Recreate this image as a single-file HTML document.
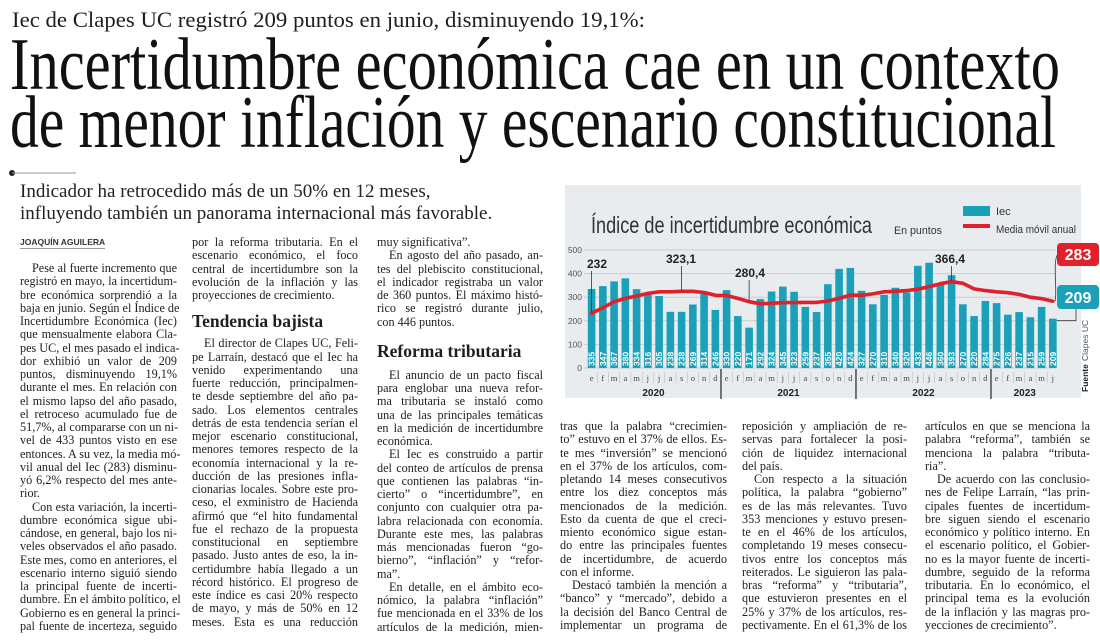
<!DOCTYPE html>
<html lang="es">
<head>
<meta charset="utf-8">
<style>
  html,body{margin:0;padding:0;background:#fff;}
  body{width:1100px;height:640px;position:relative;overflow:hidden;font-family:"Liberation Serif",serif;color:#1e1e1e;}
  .col{position:absolute;font-size:12.2px;line-height:13.25px;}
  .col div{white-space:nowrap;}
  .l{text-align:justify;text-align-last:justify;}
  .e{text-align:left;}
  .i{text-indent:12px;}
  .h{font-weight:bold;font-size:17.5px;line-height:20px;font-family:"Liberation Serif",serif;}
  .abs{position:absolute;}
</style>
</head>
<body>

<svg class="abs" style="left:0;top:0" width="1100" height="240">
  <text x="12" y="27" font-family="Liberation Serif, serif" font-size="22.5" fill="#1e1e1e" textLength="633" lengthAdjust="spacingAndGlyphs">Iec de Clapes UC registró 209 puntos en junio, disminuyendo 19,1%:</text>
  <text x="10" y="89" font-family="Liberation Serif, serif" font-size="74" fill="#111" textLength="1050" lengthAdjust="spacingAndGlyphs">Incertidumbre económica cae en un contexto</text>
  <text x="10" y="147" font-family="Liberation Serif, serif" font-size="74" fill="#111" textLength="1046" lengthAdjust="spacingAndGlyphs">de menor inflación y escenario constitucional</text>
  <circle cx="12" cy="173" r="3" fill="#222"/>
  <line x1="12" y1="173" x2="76" y2="173" stroke="#999" stroke-width="1"/>
  <text x="20" y="197" font-family="Liberation Serif, serif" font-size="19" fill="#222">Indicador ha retrocedido más de un 50% en 12 meses,</text>
  <text x="20" y="219" font-family="Liberation Serif, serif" font-size="19" fill="#222">influyendo también un panorama internacional más favorable.</text>
</svg>

<div class="abs" style="left:20px;top:237px;font-family:'Liberation Sans',sans-serif;font-size:8.5px;font-weight:bold;color:#333;border-bottom:1px solid #999;padding-bottom:1px;">JOAQUÍN AGUILERA</div>

<div class="col" style="left:20px;top:262px;width:157px;">
<div class="l i">Pese al fuerte incremento que</div>
<div class="l">registró en mayo, la incertidum-</div>
<div class="l">bre económica sorprendió a la</div>
<div class="l">baja en junio. Según el Índice de</div>
<div class="l">Incertidumbre Económica (Iec)</div>
<div class="l">que mensualmente elabora Cla-</div>
<div class="l">pes UC, el mes pasado el indica-</div>
<div class="l">dor exhibió un valor de 209</div>
<div class="l">puntos, disminuyendo 19,1%</div>
<div class="l">durante el mes. En relación con</div>
<div class="l">el mismo lapso del año pasado,</div>
<div class="l">el retroceso acumulado fue de</div>
<div class="l">51,7%, al compararse con un ni-</div>
<div class="l">vel de 433 puntos visto en ese</div>
<div class="l">entonces. A su vez, la media mó-</div>
<div class="l">vil anual del Iec (283) disminu-</div>
<div class="l">yó 6,2% respecto del mes ante-</div>
<div class="e">rior.</div>
<div class="l i">Con esta variación, la incerti-</div>
<div class="l">dumbre económica sigue ubi-</div>
<div class="l">cándose, en general, bajo los ni-</div>
<div class="l">veles observados el año pasado.</div>
<div class="l">Este mes, como en anteriores, el</div>
<div class="l">escenario interno siguió siendo</div>
<div class="l">la principal fuente de incerti-</div>
<div class="l">dumbre. En el ámbito político, el</div>
<div class="l">Gobierno es en general la princi-</div>
<div class="l">pal fuente de incerteza, seguido</div>
</div>

<div class="col" style="left:192px;top:236px;width:166px;">
<div class="l">por la reforma tributaria. En el</div>
<div class="l">escenario económico, el foco</div>
<div class="l">central de incertidumbre son la</div>
<div class="l">evolución de la inflación y las</div>
<div class="e">proyecciones de crecimiento.</div>
<div class="h" style="margin-top:9px;margin-bottom:6px;">Tendencia bajista</div>
<div class="l i">El director de Clapes UC, Feli-</div>
<div class="l">pe Larraín, destacó que el Iec ha</div>
<div class="l">venido experimentando una</div>
<div class="l">fuerte reducción, principalmen-</div>
<div class="l">te desde septiembre del año pa-</div>
<div class="l">sado. Los elementos centrales</div>
<div class="l">detrás de esta tendencia serían el</div>
<div class="l">mejor escenario constitucional,</div>
<div class="l">menores temores respecto de la</div>
<div class="l">economía internacional y la re-</div>
<div class="l">ducción de las presiones infla-</div>
<div class="l">cionarias locales. Sobre este pro-</div>
<div class="l">ceso, el exministro de Hacienda</div>
<div class="l">afirmó que “el hito fundamental</div>
<div class="l">fue el rechazo de la propuesta</div>
<div class="l">constitucional en septiembre</div>
<div class="l">pasado. Justo antes de eso, la in-</div>
<div class="l">certidumbre había llegado a un</div>
<div class="l">récord histórico. El progreso de</div>
<div class="l">este índice es casi 20% respecto</div>
<div class="l">de mayo, y más de 50% en 12</div>
<div class="l">meses. Esta es una reducción</div>
</div>

<div class="col" style="left:377px;top:236px;width:166px;">
<div class="e">muy significativa”.</div>
<div class="l i">En agosto del año pasado, an-</div>
<div class="l">tes del plebiscito constitucional,</div>
<div class="l">el indicador registraba un valor</div>
<div class="l">de 360 puntos. El máximo histó-</div>
<div class="l">rico se registró durante julio,</div>
<div class="e">con 446 puntos.</div>
<div class="h" style="margin-top:12px;margin-bottom:8px;">Reforma tributaria</div>
<div class="l i">El anuncio de un pacto fiscal</div>
<div class="l">para englobar una nueva refor-</div>
<div class="l">ma tributaria se instaló como</div>
<div class="l">una de las principales temáticas</div>
<div class="l">en la medición de incertidumbre</div>
<div class="e">económica.</div>
<div class="l i">El Iec es construido a partir</div>
<div class="l">del conteo de artículos de prensa</div>
<div class="l">que contienen las palabras “in-</div>
<div class="l">cierto” o “incertidumbre”, en</div>
<div class="l">conjunto con cualquier otra pa-</div>
<div class="l">labra relacionada con economía.</div>
<div class="l">Durante este mes, las palabras</div>
<div class="l">más mencionadas fueron “go-</div>
<div class="l">bierno”, “inflación” y “refor-</div>
<div class="e">ma”.</div>
<div class="l i">En detalle, en el ámbito eco-</div>
<div class="l">nómico, la palabra “inflación”</div>
<div class="l">fue mencionada en el 33% de los</div>
<div class="l">artículos de la medición, mien-</div>
</div>

<div class="col" style="left:560px;top:420px;width:167px;">
<div class="l">tras que la palabra “crecimien-</div>
<div class="l">to” estuvo en el 37% de ellos. Es-</div>
<div class="l">te mes “inversión” se mencionó</div>
<div class="l">en el 37% de los artículos, com-</div>
<div class="l">pletando 14 meses consecutivos</div>
<div class="l">entre los diez conceptos más</div>
<div class="l">mencionados de la medición.</div>
<div class="l">Esto da cuenta de que el creci-</div>
<div class="l">miento económico sigue estan-</div>
<div class="l">do entre las principales fuentes</div>
<div class="l">de incertidumbre, de acuerdo</div>
<div class="e">con el informe.</div>
<div class="l i">Destacó también la mención a</div>
<div class="l">“banco” y “mercado”, debido a</div>
<div class="l">la decisión del Banco Central de</div>
<div class="l">implementar un programa de</div>
</div>

<div class="col" style="left:742px;top:420px;width:165px;">
<div class="l">reposición y ampliación de re-</div>
<div class="l">servas para fortalecer la posi-</div>
<div class="l">ción de liquidez internacional</div>
<div class="e">del país.</div>
<div class="l i">Con respecto a la situación</div>
<div class="l">política, la palabra “gobierno”</div>
<div class="l">es de las más relevantes. Tuvo</div>
<div class="l">353 menciones y estuvo presen-</div>
<div class="l">te en el 46% de los artículos,</div>
<div class="l">completando 19 meses consecu-</div>
<div class="l">tivos entre los conceptos más</div>
<div class="l">reiterados. Le siguieron las pala-</div>
<div class="l">bras “reforma” y “tributaria”,</div>
<div class="l">que estuvieron presentes en el</div>
<div class="l">25% y 37% de los artículos, res-</div>
<div class="l">pectivamente. En el 61,3% de los</div>
</div>

<div class="col" style="left:925px;top:420px;width:165px;">
<div class="l">artículos en que se menciona la</div>
<div class="l">palabra “reforma”, también se</div>
<div class="l">menciona la palabra “tributa-</div>
<div class="e">ria”.</div>
<div class="l i">De acuerdo con las conclusio-</div>
<div class="l">nes de Felipe Larraín, “las prin-</div>
<div class="l">cipales fuentes de incertidum-</div>
<div class="l">bre siguen siendo el escenario</div>
<div class="l">económico y político interno. En</div>
<div class="l">el escenario político, el Gobier-</div>
<div class="l">no es la mayor fuente de incerti-</div>
<div class="l">dumbre, seguido de la reforma</div>
<div class="l">tributaria. En lo económico, el</div>
<div class="l">principal tema es la evolución</div>
<div class="l">de la inflación y las magras pro-</div>
<div class="e">yecciones de crecimiento”.</div>
</div>

<svg id="chart" class="abs" style="left:560px;top:180px" width="540" height="222" viewBox="560 180 540 222"></svg>

<script>
const months = ["e","f","m","a","m","j","j","a","s","o","n","d","e","f","m","a","m","j","j","a","s","o","n","d","e","f","m","a","m","j","j","a","s","o","n","d","e","f","m","a","m","j"];
const years = ["2020","2021","2022","2023"];
const yearStarts = [0,12,24,36];
const iecValues = [335,347,367,380,334,316,305,238,238,269,314,246,330,220,171,292,324,345,323,259,237,355,420,424,327,270,310,340,320,433,446,360,393,270,220,284,275,226,237,215,259,209];
const movingAvg = [232,255,281,295,305,316,323,323,325,325,320,308,307,295,281,272,274,277,277,278,278,284,295,309,308,314,323,325,328,334,345,357,366,359,335,328,323,319,312,300,294,283];
const yTicks = [0,100,200,300,400,500];
const callouts = [{i:0,label:"232",tx:597,ty:268},{i:8,label:"323,1",tx:681,ty:263},{i:14,label:"280,4",tx:750,ty:277},{i:32,label:"366,4",tx:950,ty:263}];

const NS = "http://www.w3.org/2000/svg";
const svg = document.getElementById("chart");
const X0 = 591.6, STEP = 11.25, Y0 = 368, PX = 0.236;
function x(i){ return X0 + i*STEP; }
function y(v){ return Y0 - v*PX; }
function mk(tag, attrs, parent){
  const el = document.createElementNS(NS, tag);
  for (const k in attrs) el.setAttribute(k, attrs[k]);
  (parent||svg).appendChild(el);
  return el;
}
function txt(s, attrs, parent){ const t = mk("text", attrs, parent); t.textContent = s; return t; }

let el = mk("rect",{x:565,y:185,width:516,height:213,fill:"#e9ecef"});



el = txt("Índice de incertidumbre económica",{x:591,y:233,"font-family":"Liberation Sans, sans-serif","font-size":23,fill:"#333",textLength:281,lengthAdjust:"spacingAndGlyphs"});


el = txt("En puntos",{x:894,y:234,"font-family":"Liberation Sans, sans-serif","font-size":11,fill:"#333",textLength:48,lengthAdjust:"spacingAndGlyphs"});



el = mk("rect",{x:963,y:206,width:27,height:10,fill:"#1aa0b8"});


el = txt("Iec",{x:996,y:215,"font-family":"Liberation Sans, sans-serif","font-size":11,fill:"#333"});


el = mk("rect",{x:963,y:224,width:27,height:4,fill:"#e0202a"});


el = txt("Media móvil anual",{x:996,y:233,"font-family":"Liberation Sans, sans-serif","font-size":11,fill:"#333",textLength:80,lengthAdjust:"spacingAndGlyphs"});



yTicks.forEach(v=>{
  const g = mk("line",{x1:584,x2:1056,y1:y(v),y2:y(v),stroke:"#c9cdd1","stroke-width":1});
  
  
  const t = txt(String(v),{x:582,y:y(v)+3,"text-anchor":"end","font-family":"Liberation Sans, sans-serif","font-size":8.5,fill:"#555"});
  
  
});

iecValues.forEach((v,i)=>{
  const b = mk("rect",{x:x(i)-3.8,y:y(v),width:7.6,height:Y0-y(v),fill:"#1aa0b8"});
  
  
  const cx = x(i)+3, cy = Y0-2;
  const t = txt(String(v),{x:cx,y:cy,transform:"rotate(-90 "+cx+" "+cy+")","font-family":"Liberation Sans, sans-serif","font-size":8.5,"font-weight":"bold",fill:"#fff"});
  
  
});

months.forEach((m,i)=>{
  const t = txt(m,{x:x(i),y:381,"text-anchor":"middle","font-family":"Liberation Serif, serif","font-size":8.5,fill:"#444"});
  
  
  if (i>0 && yearStarts.indexOf(i)<0){
    const s = mk("line",{x1:x(i)-STEP/2,x2:x(i)-STEP/2,y1:372,y2:383,stroke:"#bbb","stroke-width":0.6});
    
    
  }
});

years.forEach((yr,k)=>{
  const start = yearStarts[k];
  const end = k+1<yearStarts.length ? yearStarts[k+1] : months.length;
  const cx = (x(start)+x(end-1))/2;
  const t = txt(yr,{x:cx,y:396,"text-anchor":"middle","font-family":"Liberation Sans, sans-serif","font-size":10,"font-weight":"bold",fill:"#222"});
  
  
  if (k>0){
    const s = mk("line",{x1:x(start)-STEP/2,x2:x(start)-STEP/2,y1:369,y2:399,stroke:"#222","stroke-width":1.2});
    
    
  }
});

let d = "";
movingAvg.forEach((v,i)=>{ d += (i?"L":"M")+x(i).toFixed(1)+","+y(v).toFixed(1); });
el = mk("path",{d:d,fill:"none",stroke:"#e0202a","stroke-width":3.6,"stroke-linejoin":"round","stroke-linecap":"round"});



callouts.forEach(c=>{
  const l = mk("line",{x1:x(c.i),x2:x(c.i),y1:c.ty+3,y2:y(movingAvg[c.i])-1,stroke:"#333","stroke-width":0.8});
  
  
  const t = txt(c.label,{x:c.tx,y:c.ty,"text-anchor":"middle","font-family":"Liberation Sans, sans-serif","font-size":12,"font-weight":"bold",fill:"#222"});
  
  
});

const lastI = iecValues.length-1;
el = mk("path",{d:"M"+(x(lastI)+2)+","+y(movingAvg[lastI])+" C1058,295 1052,260 1058,254",fill:"none",stroke:"#333","stroke-width":0.8});


el = mk("rect",{x:1057,y:243,width:42,height:23,rx:4,fill:"#e0202a"});


el = txt(String(movingAvg[lastI]),{x:1078,y:260,"text-anchor":"middle","font-family":"Liberation Sans, sans-serif","font-size":16,"font-weight":"bold",fill:"#fff"});



el = mk("path",{d:"M"+(x(lastI)+4)+","+(y(iecValues[lastI])+2)+" L1076,"+(y(iecValues[lastI])+2)+" L1076,309",fill:"none",stroke:"#333","stroke-width":0.8});


el = mk("rect",{x:1057,y:285,width:42,height:24,rx:4,fill:"#1aa0b8"});


el = txt(String(iecValues[lastI]),{x:1078,y:303,"text-anchor":"middle","font-family":"Liberation Sans, sans-serif","font-size":16,"font-weight":"bold",fill:"#fff"});



el = txt("Fuente",{x:1088,y:392,transform:"rotate(-90 1088 392)","font-family":"Liberation Sans, sans-serif","font-size":8.5,"font-weight":"bold",fill:"#222"});


el = txt("Clapes UC",{x:1088,y:361,transform:"rotate(-90 1088 361)","font-family":"Liberation Sans, sans-serif","font-size":8.5,fill:"#555"});


</script>
</body>
</html>
